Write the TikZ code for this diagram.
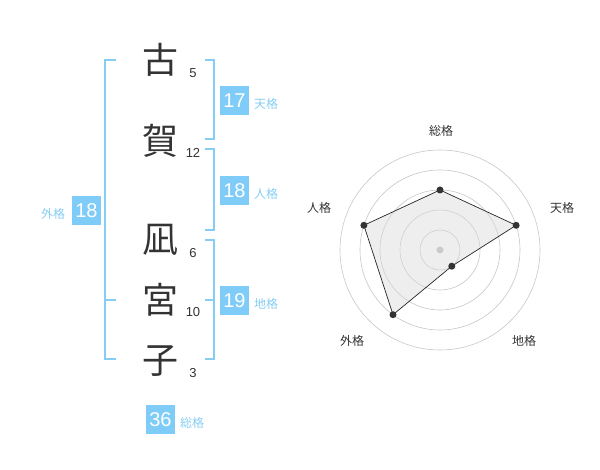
\documentclass[tikz,border=0pt]{standalone}
\usepackage{fontspec}
\setmainfont{Noto Sans CJK JP}
\newfontfamily\numfont{Liberation Sans}
\begin{document}
\begin{tikzpicture}[x=1pt,y=-1pt,
  kanji/.style={font=\fontsize{36}{36}\selectfont, text=black!80},
  stroke/.style={font=\numfont\fontsize{13}{13}\selectfont, text=black!80},
  numbox/.style={fill=boxblue, text=white, minimum size=29pt, inner sep=0pt, font=\numfont\fontsize{20}{20}\selectfont},
  kaku/.style={text=lblue, font=\fontsize{12}{12}\selectfont, inner sep=0pt},
  brk/.style={draw=lblue, line width=1.8pt},
  ring/.style={draw=black!22, line width=0.6pt},
  rlabel/.style={text=black!80, font=\fontsize{12}{12}\selectfont, inner sep=0pt},
  dot/.style={circle, fill=black!80, minimum size=7pt, inner sep=0pt}]
\definecolor{boxblue}{HTML}{80CCF8}
\definecolor{lblue}{HTML}{86CDF5}
\useasboundingbox (0,0) rectangle (600,470);
% name characters
\node[kanji] (c1) at (160,60) {古};
\node[kanji] (c2) at (160,141) {賀};
\node[kanji] (c3) at (160,240) {凪};
\node[kanji] (c4) at (160,300) {宮};
\node[kanji] (c5) at (160,361) {子};
\node[stroke] (s1) at (193,73) {5};
\node[stroke] (s2) at (193,153) {12};
\node[stroke] (s3) at (193,253) {6};
\node[stroke] (s4) at (193,312) {10};
\node[stroke] (s5) at (193,373) {3};
% brackets
\draw[brk] (116,60) -- (105,60) -- (105,359) -- (116,359);
\draw[brk] (105,300) -- (116,300);
\draw[brk] (205,60) -- (214,60) -- (214,139) -- (205,139);
\draw[brk] (205,149) -- (214,149) -- (214,230) -- (205,230);
\draw[brk] (205,240) -- (214,240) -- (214,359) -- (205,359);
\draw[brk] (205,300) -- (214,300);
% boxes
\node[numbox] (ten) at (234.5,100.5) {17};
\node[kaku] (tenl) at (266,104) {天格};
\node[numbox] (jin) at (234.5,190.5) {18};
\node[kaku] (jinl) at (266,194) {人格};
\node[numbox] (chi) at (234.5,300.5) {19};
\node[kaku] (chil) at (266,304) {地格};
\node[numbox] (gai) at (86.5,210.5) {18};
\node[kaku] (gail) at (53,214) {外格};
\node[numbox] (sou) at (160.5,419.5) {36};
\node[kaku] (soul) at (192,423) {総格};
% radar
\coordinate (O) at (440,250);
\foreach \r in {20,40,60,80,100} \draw[ring] (O) circle[radius=\r];
\fill[black!25] (O) circle[radius=3.5];
\coordinate (p1) at (440,190);
\coordinate (p2) at (516.1,225.3);
\coordinate (p3) at (451.8,266.2);
\coordinate (p4) at (393.0,314.7);
\coordinate (p5) at (363.9,225.3);
\draw[fill=black!15, fill opacity=0.45, draw opacity=1, draw=black!85, line width=0.7pt] (p1) -- (p2) -- (p3) -- (p4) -- (p5) -- cycle;
\foreach \p in {p1,p2,p3,p4,p5} \node[dot] at (\p) {};
\node[rlabel] (l1) at (441,131) {総格};
\node[rlabel] (l2) at (562,208) {天格};
\node[rlabel] (l3) at (524,341) {地格};
\node[rlabel] (l4) at (352,341) {外格};
\node[rlabel] (l5) at (319,208) {人格};
\end{tikzpicture}
\end{document}
